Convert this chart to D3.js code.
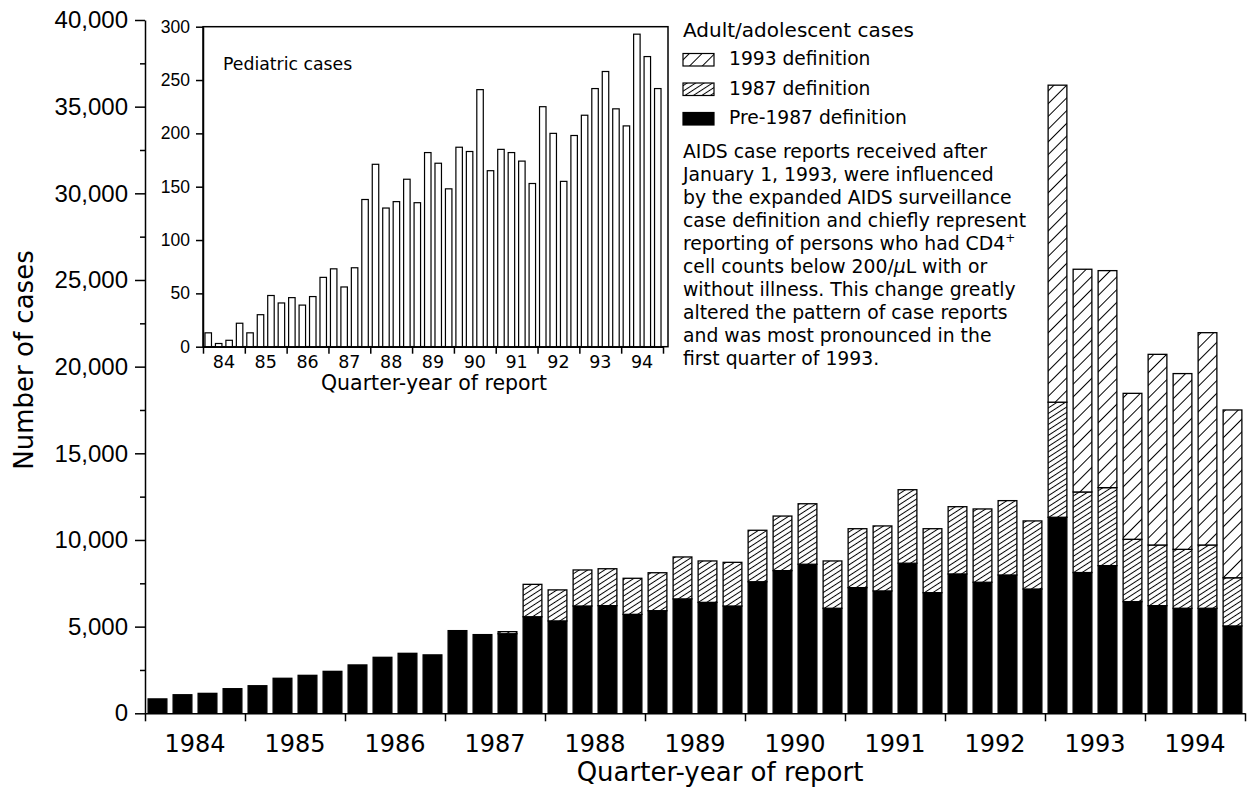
<!DOCTYPE html>
<html><head><meta charset="utf-8">
<script src="https://cdn.jsdelivr.net/npm/d3@7"></script>
<style>body{margin:0;background:#fff}svg{display:block;font-family:"DejaVu Sans",sans-serif}</style>
</head><body><svg id="c" width="1247" height="795"></svg>
<script>
const years = [1984,1985,1986,1987,1988,1989,1990,1991,1992,1993,1994];
const quarterNames = ["Q1","Q2","Q3","Q4"];
const quarters = years.flatMap(y => quarterNames.map(q => `${y} ${q}`));
const pre1987 = [830,1070,1150,1420,1590,2020,2190,2420,2790,3230,3460,3370,
  4770,4540,4590,5570,5330,6190,6210,5710,5920,6600,6400,6190,
  7590,8230,8600,6060,7250,7060,8660,6960,8040,7560,7980,7170,
  11310,8120,8520,6440,6210,6060,6060,5040];
const def1987 = [0,0,0,0,0,0,0,0,0,0,0,0,
  0,0,120,1870,1790,2080,2130,2080,2190,2420,2390,2520,
  2970,3150,3490,2730,3400,3750,4240,3690,3880,4230,4290,3930,
  6640,4650,4500,3600,3500,3400,3650,2780];
const def1993 = [0,0,0,0,0,0,0,0,0,0,0,0,
  0,0,0,0,0,0,0,0,0,0,0,0,
  0,0,0,0,0,0,0,0,0,0,0,0,
  18290,12850,12520,8420,11000,10140,12250,9680];
const pediatric = [13,3,6,22,13,30,48,41,46,39,47,65,
  73,56,74,138,171,130,136,157,135,182,172,148,
  187,183,241,165,185,182,174,153,225,200,155,198,
  217,242,258,223,207,293,272,242];
const yTicksMain = [0,5000,10000,15000,20000,25000,30000,35000,40000];
const yMinorMain = [2500,7500,12500,17500,22500,27500,32500,37500];
const yTicksInset = [0,50,100,150,200,250,300];
const insetYearLabels = ["84","85","86","87","88","89","90","91","92","93","94"];
const legendTitle = "Adult/adolescent cases";
const legendLabels = ["1993 definition","1987 definition","Pre-1987 definition"];
const noteLines = [
  "AIDS case reports received after",
  "January 1, 1993, were influenced",
  "by the expanded AIDS surveillance",
  "case definition and chiefly represent",
  "reporting of persons who had CD4|+",
  "cell counts below 200/~μ~L with or",
  "without illness. This change greatly",
  "altered the pattern of case reports",
  "and was most pronounced in the",
  "first quarter of 1993."
];

const svg = d3.select("#c");
svg.append("rect").attr("width",1247).attr("height",795).attr("fill","#fff");
const defs = svg.append("defs");
function hatch(id, spacing, angle, sw) {
  const p = defs.append("pattern").attr("id", id).attr("patternUnits","userSpaceOnUse")
    .attr("width", spacing).attr("height", spacing).attr("patternTransform", `rotate(${angle})`);
  p.append("rect").attr("width", spacing).attr("height", spacing).attr("fill","#fff");
  p.append("line").attr("x1", spacing/2).attr("y1", 0).attr("x2", spacing/2).attr("y2", spacing)
    .attr("stroke","#000").attr("stroke-width", sw);
}
hatch("h93", 9, 45, 1);
hatch("h87", 4.6, 57, 1);
const fills = {pre:"#000", d87:"url(#h87)", d93:"url(#h93)"};

// ---------- main chart ----------
const x = d3.scaleBand().domain(quarters).range([145,1245]).paddingInner(0.25).paddingOuter(0.125);
const xYear = d3.scaleLinear().domain([1984,1995]).range([145,1245]);
const y = d3.scaleLinear().domain([0,40000]).range([713.3,20]);

const data = quarters.map((q,i) => ({q, pre:pre1987[i], d87:def1987[i], d93:def1993[i]}));
const series = d3.stack().keys(["pre","d87","d93"])(data);

const gBars = svg.append("g");
series.forEach(s => {
  gBars.selectAll(null).data(s.filter(d => d[1]-d[0] > 0)).join("rect")
    .attr("x", d => x(d.data.q))
    .attr("width", x.bandwidth())
    .attr("y", d => y(d[1]))
    .attr("height", d => y(d[0]) - y(d[1]))
    .attr("fill", fills[s.key])
    .attr("stroke", "#000").attr("stroke-width", 1.3);
});

const yAx = svg.append("g").attr("transform","translate(145,0)")
  .call(d3.axisLeft(y).tickValues(yTicksMain).tickSize(10).tickPadding(7).tickSizeOuter(0).tickFormat(d3.format(",")));
yAx.selectAll("text").attr("font-size",24).attr("fill","#000");
const yMin = svg.append("g").attr("transform","translate(145,0)")
  .call(d3.axisLeft(y).tickValues(yMinorMain).tickSize(5).tickFormat(""));
yMin.select(".domain").remove();

const xAx = svg.append("g").attr("transform","translate(0,713.3)")
  .call(d3.axisBottom(xYear).tickValues(d3.range(1984,1996)).tickSize(8).tickSizeOuter(0).tickFormat(""));
svg.append("g").selectAll("text").data(years).join("text")
  .attr("x", d => xYear(d + 0.5)).attr("y", 752).attr("text-anchor","middle")
  .attr("font-size",24).text(d => d);

[yAx, yMin, xAx].forEach(g => g.selectAll("path,line").attr("stroke","#000").attr("stroke-width",1.5));

svg.append("text").attr("x",720).attr("y",781).attr("text-anchor","middle")
  .attr("font-size",26).text("Quarter-year of report");
svg.append("text").attr("transform","translate(33,360) rotate(-90)").attr("text-anchor","middle")
  .attr("font-size",26).text("Number of cases");

// ---------- inset ----------
const xi = d3.scaleBand().domain(quarters).range([203,663]).paddingInner(0.38).paddingOuter(0.19);
const xiYear = d3.scaleLinear().domain([1984,1995]).range([203,663]);
const yi = d3.scaleLinear().domain([0,300]).range([346.7,26.7]);

svg.append("rect").attr("x",203).attr("y",yi(300)).attr("width",465).attr("height",yi(0)-yi(300))
  .attr("fill","#fff").attr("stroke","#000").attr("stroke-width",1.5);
svg.append("g").selectAll("rect").data(pediatric).join("rect")
  .attr("x", (d,i) => xi(quarters[i])).attr("width", xi.bandwidth())
  .attr("y", d => yi(d)).attr("height", d => yi(0) - yi(d))
  .attr("fill","#fff").attr("stroke","#000").attr("stroke-width",1.2);

const yiAx = svg.append("g").attr("transform","translate(203,0)")
  .call(d3.axisLeft(yi).tickValues(yTicksInset).tickSize(7).tickPadding(6).tickSizeOuter(0));
yiAx.selectAll("text").attr("font-size",17.5).attr("fill","#000");
const xiAx = svg.append("g").attr("transform",`translate(0,${yi(0)})`)
  .call(d3.axisBottom(xiYear).tickValues(d3.range(1984,1996)).tickSize(7).tickSizeOuter(0).tickFormat(""));
[yiAx, xiAx].forEach(g => g.selectAll("path,line").attr("stroke","#000").attr("stroke-width",1.5));
svg.append("g").selectAll("text").data(insetYearLabels).join("text")
  .attr("x", (d,i) => xiYear(years[i] + 0.5)).attr("y", 368).attr("text-anchor","middle")
  .attr("font-size",17.5).text(d => d);
svg.append("text").attr("x",434).attr("y",390).attr("text-anchor","middle")
  .attr("font-size",20.5).text("Quarter-year of report");
svg.append("text").attr("x",223).attr("y",70).attr("font-size",17.3).text("Pediatric cases");

// ---------- legend + note ----------
svg.append("text").attr("x",683).attr("y",37).attr("font-size",20).text(legendTitle);
const legKeys = ["d93","d87","pre"];
const leg = svg.append("g").selectAll("g").data(legendLabels).join("g")
  .attr("transform", (d,i) => `translate(683,${53.5 + i*29.5})`);
leg.append("rect").attr("width",31).attr("height",12.5)
  .attr("fill", (d,i) => fills[legKeys[i]]).attr("stroke","#000").attr("stroke-width",1.2);
leg.append("text").attr("x",46).attr("y",11.5).attr("font-size",18.7).text(d => d);

const note = svg.append("g").attr("font-size",18.8);
noteLines.forEach((line,i) => {
  const t = note.append("text").attr("x",683).attr("y",157.5 + i*23.1);
  if (line.includes("|")) {
    const [a,b] = line.split("|");
    t.append("tspan").text(a);
    t.append("tspan").attr("font-size",12).attr("dy",-8).text(b);
  } else if (line.includes("~")) {
    const parts = line.split("~");
    parts.forEach((p,j) => t.append("tspan").attr("font-style", j===1 ? "italic" : null).text(p));
  } else t.text(line);
});
</script></body></html>
